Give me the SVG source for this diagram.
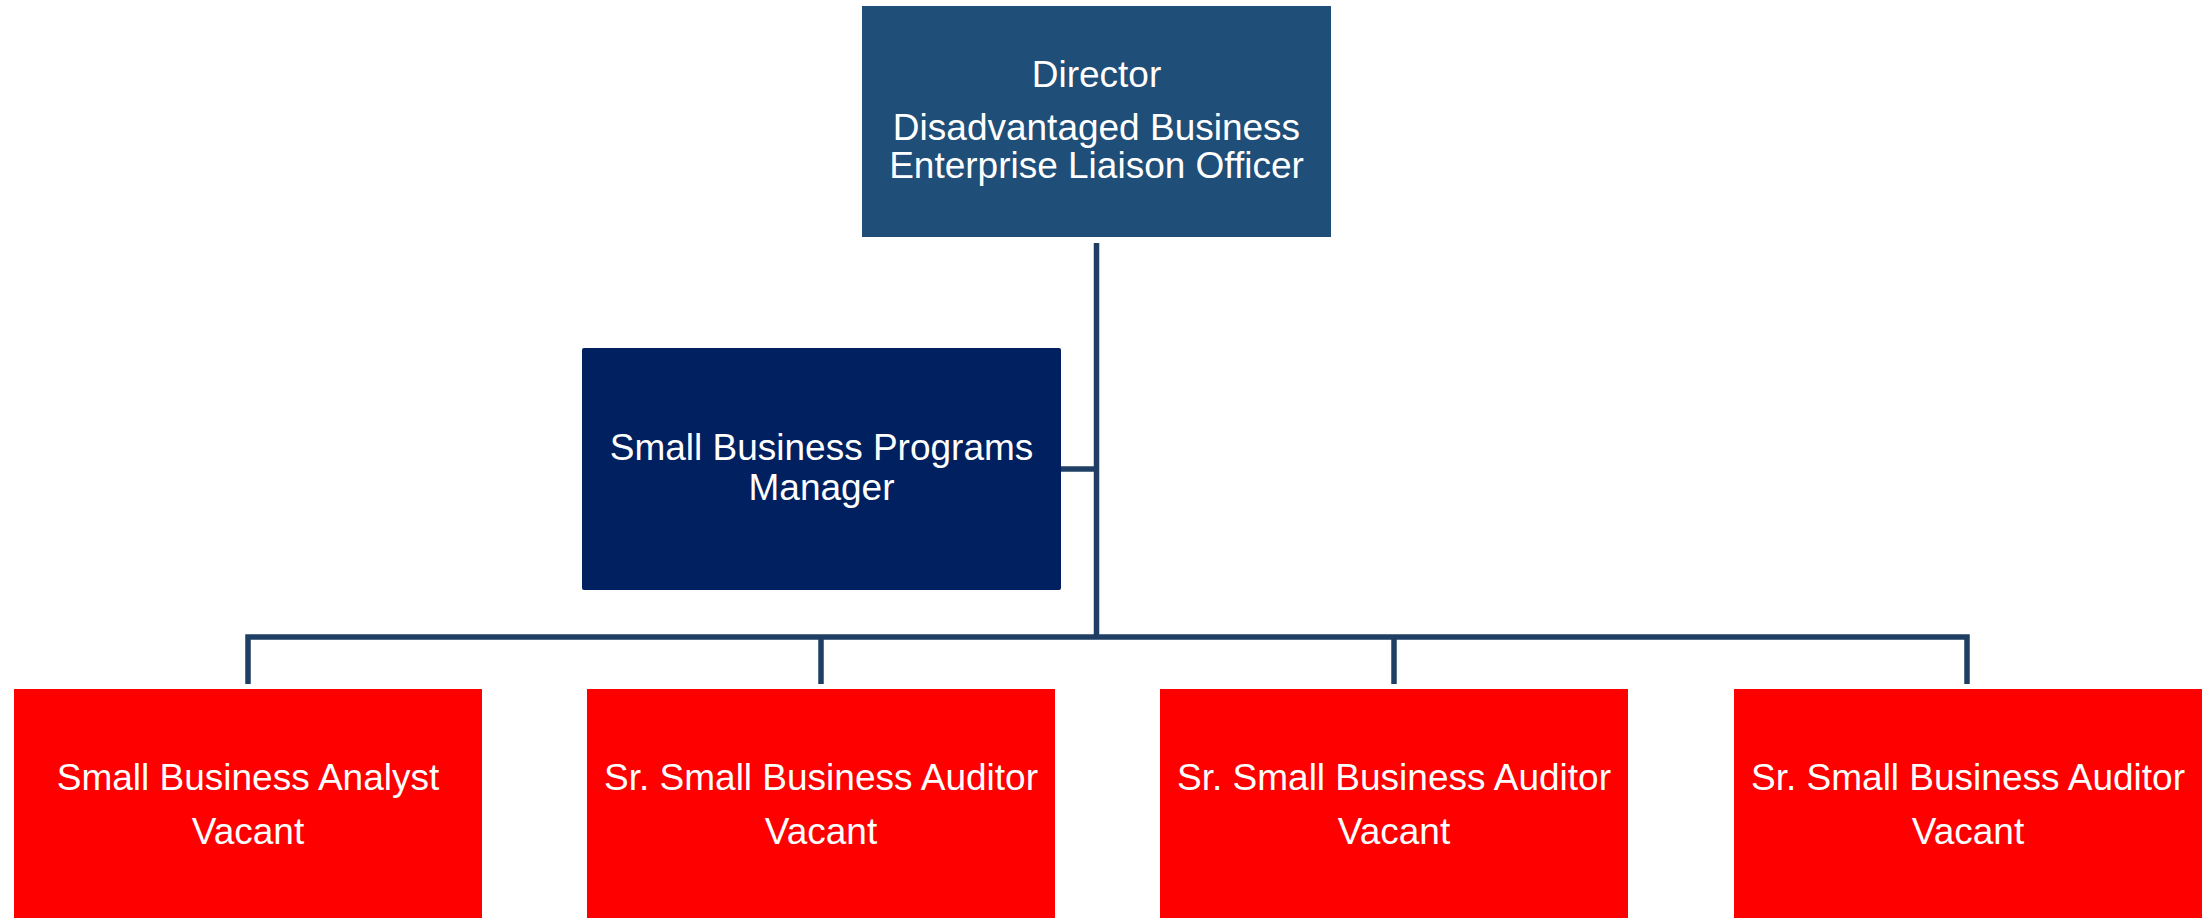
<svg xmlns="http://www.w3.org/2000/svg" width="2205" height="918" viewBox="0 0 2205 918">
<style>
.t{font-family:"Liberation Sans",Arial,sans-serif;font-size:37px;fill:#ffffff;text-anchor:middle}
.ln{fill:none;stroke:#1E3F63;stroke-width:5.5;stroke-linejoin:miter;stroke-linecap:butt}
.red{fill:#FF0000}
</style>
<rect width="2205" height="918" fill="#ffffff"/>
<g id="connectors">
<path class="ln" d="M1096.5,243 V637"/>
<path class="ln" d="M1061,469 H1096.5"/>
<path class="ln" d="M248,684 V637 H1967 V684"/>
<path class="ln" d="M821,637 V684"/>
<path class="ln" d="M1394,637 V684"/>
</g>
<g id="director">
<rect x="862" y="6" width="469" height="231" fill="#1F4E79"/>
<text class="t" x="1096.5" y="87">Director</text>
<text class="t" x="1096.5" y="140">Disadvantaged Business</text>
<text class="t" x="1096.5" y="178">Enterprise Liaison Officer</text>
</g>
<g id="manager">
<rect x="582" y="348" width="479" height="242" rx="2" fill="#002060"/>
<text class="t" x="821.5" y="460">Small Business Programs</text>
<text class="t" x="821.5" y="500">Manager</text>
</g>
<g id="analyst">
<rect class="red" x="14" y="689" width="468" height="229"/>
<text class="t" x="248" y="790">Small Business Analyst</text>
<text class="t" x="248" y="844">Vacant</text>
</g>
<g id="auditor1">
<rect class="red" x="587" y="689" width="468" height="229"/>
<text class="t" x="821" y="790">Sr. Small Business Auditor</text>
<text class="t" x="821" y="844">Vacant</text>
</g>
<g id="auditor2">
<rect class="red" x="1160" y="689" width="468" height="229"/>
<text class="t" x="1394" y="790">Sr. Small Business Auditor</text>
<text class="t" x="1394" y="844">Vacant</text>
</g>
<g id="auditor3">
<rect class="red" x="1734" y="689" width="468" height="229"/>
<text class="t" x="1968" y="790">Sr. Small Business Auditor</text>
<text class="t" x="1968" y="844">Vacant</text>
</g>
</svg>
